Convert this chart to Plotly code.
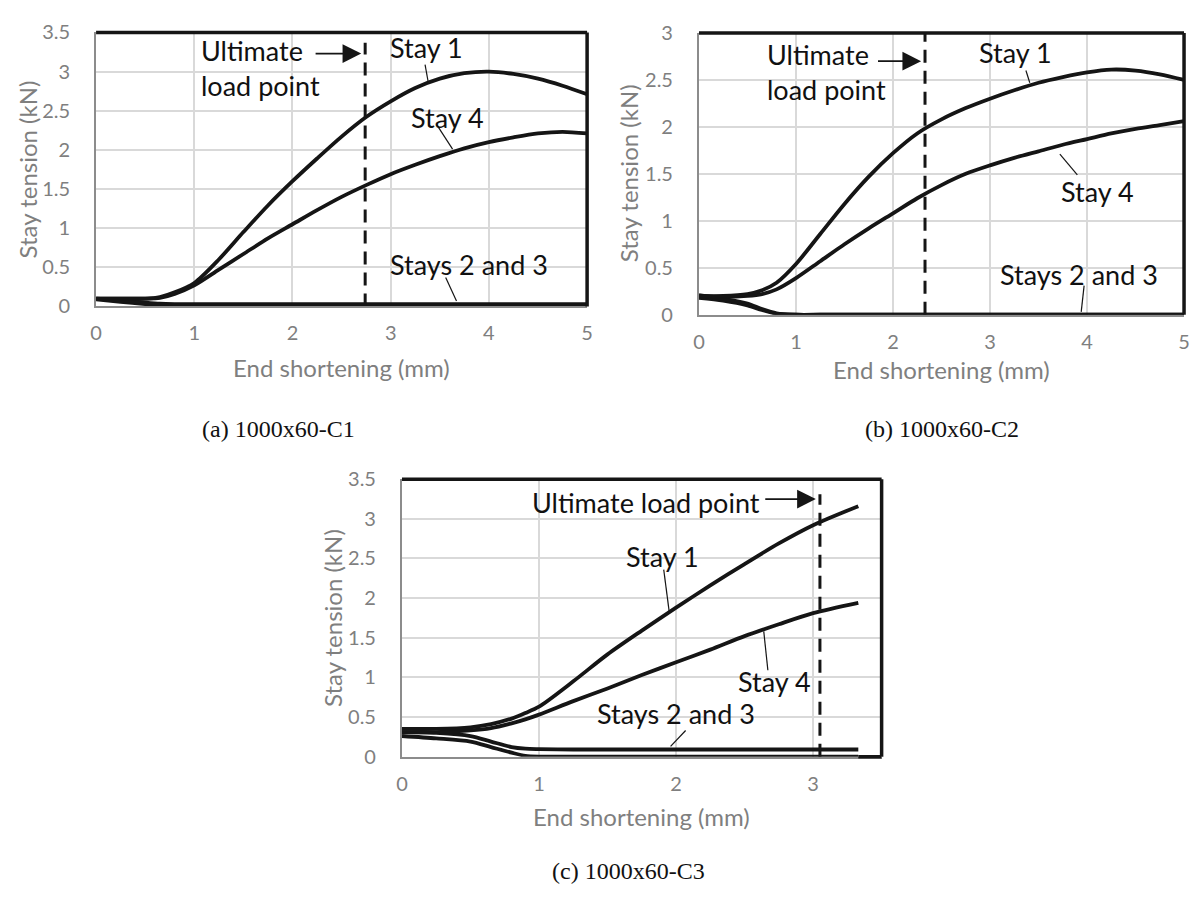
import plotly.graph_objects as go

# ---------------- data ----------------
# (a) 1000x60-C1
xa = [0, 0.25, 0.5, 0.65, 0.8, 1.0, 1.25, 1.5, 1.75, 2.0, 2.25, 2.5, 2.75, 3.0,
      3.25, 3.5, 3.75, 4.0, 4.25, 4.5, 4.75, 5.0]
a_stay1 = [0.10, 0.10, 0.10, 0.12, 0.18, 0.30, 0.60, 0.95, 1.29, 1.60, 1.89, 2.17, 2.42, 2.62,
           2.79, 2.91, 2.98, 3.00, 2.97, 2.91, 2.82, 2.71]
a_stay4 = [0.10, 0.10, 0.10, 0.11, 0.16, 0.27, 0.47, 0.67, 0.87, 1.05, 1.23, 1.40, 1.55, 1.69,
           1.81, 1.92, 2.02, 2.10, 2.16, 2.21, 2.23, 2.21]
a_stay2 = [0.10, 0.08, 0.05, 0.035, 0.03, 0.03, 0.03, 0.03, 0.03, 0.03, 0.03, 0.03, 0.03, 0.03,
           0.03, 0.03, 0.03, 0.03, 0.03, 0.03, 0.03, 0.03]
a_stay3 = [0.09, 0.06, 0.03, 0.01, 0.0, 0.0, 0.0, 0.0, 0.0, 0.0, 0.0, 0.0, 0.0, 0.0,
           0.0, 0.0, 0.0, 0.0, 0.0, 0.0, 0.0, 0.0]
a_ultimate = 2.74

# (b) 1000x60-C2
xb = [0, 0.25, 0.5, 0.65, 0.8, 1.0, 1.25, 1.5, 1.75, 2.0, 2.25, 2.5, 2.75, 3.0,
      3.25, 3.5, 3.75, 4.0, 4.25, 4.5, 4.75, 5.0]
b_stay1 = [0.20, 0.20, 0.22, 0.26, 0.34, 0.54, 0.86, 1.18, 1.47, 1.72, 1.93, 2.08, 2.20, 2.30,
           2.39, 2.47, 2.53, 2.58, 2.61, 2.60, 2.56, 2.50]
b_stay4 = [0.20, 0.19, 0.20, 0.22, 0.27, 0.39, 0.57, 0.75, 0.92, 1.08, 1.24, 1.38, 1.50, 1.59,
           1.67, 1.74, 1.81, 1.87, 1.93, 1.98, 2.02, 2.06]
b_stay2 = [0.21, 0.17, 0.12, 0.06, 0.015, 0.0, 0.0, 0.0, 0.0, 0.0, 0.0, 0.0, 0.0, 0.0,
           0.0, 0.0, 0.0, 0.0, 0.0, 0.0, 0.0, 0.0]
b_stay3 = [0.18, 0.15, 0.10, 0.05, 0.01, 0.0, 0.0, 0.0, 0.0, 0.0, 0.0, 0.0, 0.0, 0.0,
           0.0, 0.0, 0.0, 0.0, 0.0, 0.0, 0.0, 0.0]
b_ultimate = 2.33

# (c) 1000x60-C3
xc = [0, 0.25, 0.5, 0.65, 0.8, 0.9, 1.0, 1.25, 1.5, 1.75, 2.0, 2.25, 2.5, 2.75, 3.0, 3.33]
c_stay1 = [0.35, 0.35, 0.37, 0.41, 0.48, 0.55, 0.63, 0.95, 1.29, 1.59, 1.88, 2.16, 2.43, 2.69, 2.92, 3.16]
c_stay4 = [0.31, 0.31, 0.33, 0.36, 0.42, 0.47, 0.53, 0.70, 0.86, 1.03, 1.19, 1.35, 1.52, 1.67, 1.81, 1.94]
c_stay2 = [0.31, 0.30, 0.26, 0.19, 0.12, 0.10, 0.095, 0.09, 0.09, 0.09, 0.09, 0.09, 0.09, 0.09, 0.09, 0.09]
c_stay3 = [0.26, 0.23, 0.19, 0.12, 0.05, 0.01, 0.0, 0.0, 0.0, 0.0, 0.0, 0.0, 0.0, 0.0, 0.0, 0.0]
c_ultimate = 3.05

x_ticks_ab = [0, 1, 2, 3, 4, 5]
x_ticks_c = [0, 1, 2, 3]
y_ticks_35 = [0, 0.5, 1, 1.5, 2, 2.5, 3, 3.5]
y_ticks_30 = [0, 0.5, 1, 1.5, 2, 2.5, 3]

captions = ["(a) 1000x60-C1", "(b) 1000x60-C2", "(c) 1000x60-C3"]

# ---------------- styling ----------------
W, H = 1194, 900
LINE = "#151515"
GRID = "#d9d9d9"
TICK_GRAY = "#7f7f7f"
SANS = "Lato"
SERIF = "Liberation Serif"

fig = go.Figure()


def add_curves(x, series, xa_name, ya_name):
    for y in series:
        fig.add_trace(go.Scatter(
            x=x, y=y, mode="lines", xaxis=xa_name, yaxis=ya_name,
            line=dict(color=LINE, width=3.8, shape="spline", smoothing=0.8),
            showlegend=False, hoverinfo="skip"))


def add_ultimate(xv, ytop, xa_name, ya_name):
    fig.add_trace(go.Scatter(
        x=[xv, xv], y=[0, ytop], mode="lines", xaxis=xa_name, yaxis=ya_name,
        line=dict(color=LINE, width=3, dash="13px,8px"),
        showlegend=False, hoverinfo="skip"))


add_curves(xa, [a_stay3, a_stay2, a_stay4, a_stay1], "x", "y")
add_ultimate(a_ultimate, 3.37, "x", "y")
add_curves(xb, [b_stay3, b_stay2, b_stay4, b_stay1], "x2", "y2")
add_ultimate(b_ultimate, 3.0, "x2", "y2")
add_curves(xc, [c_stay3, c_stay2, c_stay4, c_stay1], "x3", "y3")
add_ultimate(c_ultimate, 3.31, "x3", "y3")


def px_dom(p0, p1, total):
    return [p0 / total, p1 / total]


def py_dom(top, bottom):
    return [1 - bottom / H, 1 - top / H]


def xaxis(domain, rng, ticks, anchor):
    return dict(domain=domain, range=rng, tickvals=ticks, anchor=anchor,
                showgrid=True, gridcolor=GRID, gridwidth=1.5, zeroline=False,
                showline=True, linecolor="#8c8c8c", linewidth=2,
                tickfont=dict(family=SANS, size=20, color=TICK_GRAY),
                ticks="", ticklabelstandoff=8, fixedrange=True)


def yaxis(domain, rng, ticks, anchor):
    return dict(domain=domain, range=rng, tickvals=ticks, anchor=anchor,
                showgrid=True, gridcolor=GRID, gridwidth=1.5, zeroline=False,
                showline=True, linecolor="#8c8c8c", linewidth=2,
                tickfont=dict(family=SANS, size=20, color=TICK_GRAY),
                ticks="", ticklabelstandoff=20, fixedrange=True)


fig.update_layout(
    width=W, height=H, autosize=False,
    margin=dict(l=0, r=0, t=0, b=0),
    paper_bgcolor="white", plot_bgcolor="white",
    xaxis=xaxis(px_dom(91, 587, W), [0, 5], x_ticks_ab, "y"),
    yaxis=yaxis(py_dom(20, 301.5), [0, 3.5], y_ticks_35, "x"),
    xaxis2=xaxis(px_dom(700, 1190, W), [0, 5], x_ticks_ab, "y2"),
    yaxis2=yaxis(py_dom(20.5, 310), [0, 3.0], y_ticks_30, "x2"),
    xaxis3=xaxis(px_dom(400, 884.5, W), [0, 3.5], x_ticks_c, "y3"),
    yaxis3=yaxis(py_dom(479, 764), [0, 3.5], y_ticks_35, "x3"),
)

# black frame on top and right of each plot (plus bottom tail in c)
shapes = []
for xr, yr in [("x", "y"), ("x2", "y2"), ("x3", "y3")]:
    shapes.append(dict(type="line", xref=f"{xr} domain", yref=f"{yr} domain",
                       x0=0, x1=1, y0=1, y1=1, line=dict(color=LINE, width=3.5)))
    shapes.append(dict(type="line", xref=f"{xr} domain", yref=f"{yr} domain",
                       x0=1, x1=1, y0=0, y1=1, line=dict(color=LINE, width=3.5)))
shapes.append(dict(type="line", xref="x3", yref="y3 domain",
                   x0=xc[-1], x1=3.5, y0=0, y1=0, line=dict(color=LINE, width=3.5)))

# leader lines from the labels to the curves
leaders = [
    ("x", "y", 3.35, 3.09, 3.38, 2.88),
    ("x", "y", 3.47, 2.32, 3.63, 2.01),
    ("x", "y", 3.56, 0.37, 3.67, 0.07),
    ("x2", "y2", 3.37, 2.60, 3.41, 2.47),
    ("x2", "y2", 3.72, 1.71, 3.90, 1.49),
    ("x2", "y2", 3.97, 0.31, 3.94, 0.03),
    ("x3", "y3", 1.91, 2.36, 1.95, 1.83),
    ("x3", "y3", 2.64, 1.58, 2.67, 1.09),
    ("x3", "y3", 2.07, 0.33, 1.96, 0.13),
]
for xr, yr, x0, y0, x1, y1 in leaders:
    shapes.append(dict(type="line", xref=xr, yref=yr, x0=x0, y0=y0, x1=x1, y1=y1,
                       line=dict(color=LINE, width=1.2)))
fig.update_layout(shapes=shapes)

annotations = []


def label(xr, yr, x, y, text, xanchor="center"):
    annotations.append(dict(xref=xr, yref=yr, x=x, y=y, text=text, showarrow=False,
                            xanchor=xanchor, yanchor="middle",
                            font=dict(family=SANS, size=27, color="#111111")))


def arrow(xr, yr, x_from, x_to, y):
    annotations.append(dict(xref=xr, yref=yr, axref=xr, ayref=yr,
                            x=x_to, y=y, ax=x_from, ay=y, text="", showarrow=True,
                            arrowhead=2, arrowsize=2.2, arrowwidth=1.7, arrowcolor=LINE,
                            standoff=0, startstandoff=0))


# (a)
label("x", "y", 1.05, 3.27, "Ultimate", "left")
label("x", "y", 1.05, 2.82, "load point", "left")
arrow("x", "y", 2.22, a_ultimate - 0.04, 3.23)
label("x", "y", 3.36, 3.31, "Stay 1")
label("x", "y", 3.58, 2.42, "Stay 4")
label("x", "y", 3.80, 0.54, "Stays 2 and 3")
# (b)
label("x2", "y2", 0.68, 2.77, "Ultimate", "left")
label("x2", "y2", 0.68, 2.40, "load point", "left")
arrow("x2", "y2", 1.83, b_ultimate - 0.04, 2.70)
label("x2", "y2", 3.26, 2.79, "Stay 1")
label("x2", "y2", 4.11, 1.31, "Stay 4")
label("x2", "y2", 3.92, 0.43, "Stays 2 and 3")
# (c)
label("x3", "y3", 2.63, 3.21, "Ultimate load point", "right")
arrow("x3", "y3", 2.64, c_ultimate - 0.03, 3.25)
label("x3", "y3", 1.90, 2.53, "Stay 1")
label("x3", "y3", 2.72, 0.95, "Stay 4")
label("x3", "y3", 2.00, 0.54, "Stays 2 and 3")

# axis titles and captions placed in pixel terms
def paper_text(px, py, text, size, color, family, angle=0):
    annotations.append(dict(xref="paper", yref="paper", x=px / W, y=1 - py / H,
                            text=text, showarrow=False, xanchor="center", yanchor="middle",
                            textangle=angle, font=dict(family=family, size=size, color=color)))


for cx, cy in [(339, 364), (945, 366), (642, 826)]:
    paper_text(cx, cy, "End shortening (mm)", 24, TICK_GRAY, SANS)
for cx, cy in [(22, 161), (629, 165), (330, 622)]:
    paper_text(cx, cy, "Stay tension (kN)", 24, TICK_GRAY, SANS, angle=-90)
for (cx, cy), cap in zip([(275, 427), (945, 427), (629, 882)], captions):
    paper_text(cx, cy, cap, 24, "#111111", SERIF)

fig.update_layout(annotations=annotations)

fig.write_html("out.html")
